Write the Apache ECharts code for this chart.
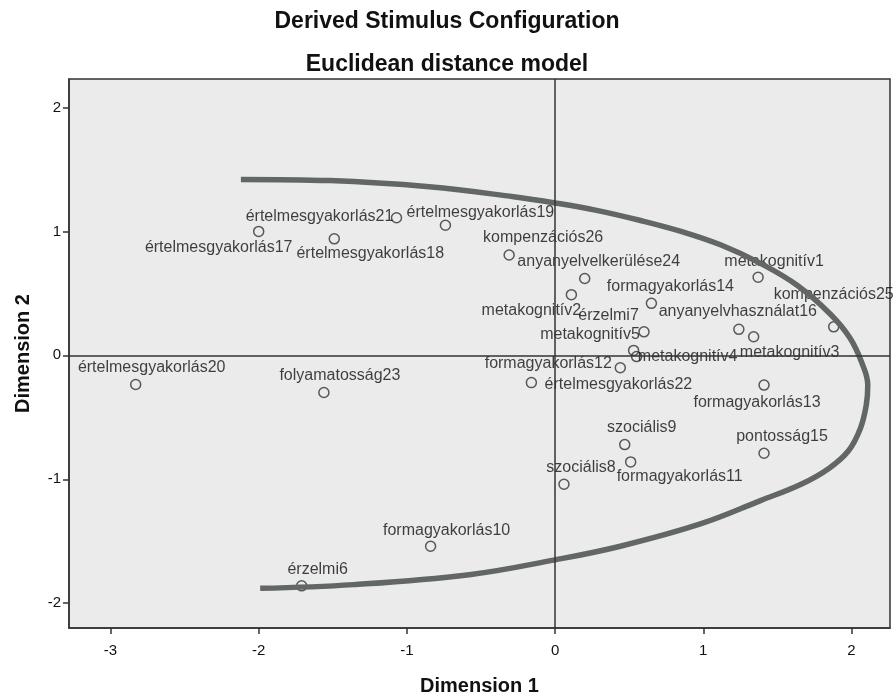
<!DOCTYPE html>
<html>
<head>
<meta charset="utf-8">
<title>Derived Stimulus Configuration</title>
<script src="https://cdn.jsdelivr.net/npm/echarts@6/dist/echarts.min.js"></script>
<style>
  html, body { margin: 0; padding: 0; background: #fff; }
  #container { width: 894px; height: 696px; }
</style>
</head>
<body>
<div id="container"></div>
<script>
"use strict";

// stimulus names and coordinates
const stimulusNames = [
  "értelmesgyakorlás17", "értelmesgyakorlás21", "értelmesgyakorlás19", "értelmesgyakorlás18",
  "kompenzációs26", "anyanyelvelkerülése24", "metakognitív2", "érzelmi7",
  "formagyakorlás14", "metakognitív1", "kompenzációs25", "anyanyelvhasználat16",
  "metakognitív3", "metakognitív5", "metakognitív4", "formagyakorlás12",
  "értelmesgyakorlás22", "formagyakorlás13", "szociális9", "pontosság15",
  "szociális8", "formagyakorlás11", "értelmesgyakorlás20", "folyamatosság23",
  "formagyakorlás10", "érzelmi6",
];
const dimension1 = [
  -2.00, -1.07, -0.74, -1.49,
  -0.31, 0.20, 0.11, 0.55,
  0.65, 1.37, 1.88, 1.24,
  1.34, 0.60, 0.53, 0.44,
  -0.16, 1.41, 0.47, 1.41,
  0.06, 0.51, -2.83, -1.56,
  -0.84, -1.71,
];
const dimension2 = [
  1.00, 1.11, 1.05, 0.94,
  0.81, 0.62, 0.49, -0.01,
  0.42, 0.63, 0.23, 0.21,
  0.15, 0.19, 0.04, -0.10,
  -0.22, -0.24, -0.72, -0.79,
  -1.04, -0.86, -0.235, -0.30,
  -1.54, -1.86,
];

// hand drawn grey curve
const curveDim1 = [
  -2.12, -1.52, -0.85, -0.28, 0.00, 0.28, 0.57, 0.85, 1.12, 1.39, 1.64, 1.86,
  1.99, 2.07, 2.11, 2.10, 2.06, 1.98, 1.85, 1.66, 1.39, 0.98, 0.44, 0.00,
  -0.58, -1.36, -1.99,
];
const curveDim2 = [
  1.42, 1.41, 1.36, 1.28, 1.23, 1.17, 1.09, 1.00, 0.89, 0.74, 0.56, 0.33,
  0.14, -0.06, -0.24, -0.40, -0.59, -0.77, -0.91, -1.04, -1.17, -1.36, -1.54, -1.65,
  -1.77, -1.85, -1.88,
];

const xTicks = [-3, -2, -1, 0, 1, 2];
const yTicks = [-2, -1, 0, 1, 2];

// label placement (pixels from the marker), same order as stimulusNames
const labelShift = [
  [-40, 16], [-77, -1], [35, -13], [36, 15],
  [34, -17], [14, -17], [-40, 16], [-28, -41],
  [19, -17], [16, -16], [0, -32], [-1, -18],
  [36, 16], [-54, 3], [54, 6], [-72, -4],
  [87, 2], [-7, 17], [17, -17], [18, -17],
  [17, -17], [49, 15], [16, -17], [16, -17],
  [16, -16], [16, -16],
];

const font = "'Liberation Sans', Arial, sans-serif";

let myChart = echarts.init(document.getElementById('container'));

let points = stimulusNames.map((name, i) => ({
  name: name,
  value: [dimension1[i], dimension2[i]],
  label: { offset: labelShift[i] },
}));

let curve = curveDim1.map((x, i) => [x, curveDim2[i]]);

let option = {
  animation: false,
  title: [
    {
      text: "Derived Stimulus Configuration",
      left: 'center',
      top: 5,
      textStyle: { fontFamily: font, fontSize: 23, fontWeight: 'bold', color: '#111' },
    },
    {
      text: "Euclidean distance model",
      left: 'center',
      top: 48,
      textStyle: { fontFamily: font, fontSize: 23, fontWeight: 'bold', color: '#111' },
    },
  ],
  grid: {
    left: 69,
    right: 4,
    top: 79,
    bottom: 68,
    outerBoundsMode: 'none',
    containLabel: false,
    show: true,
    backgroundColor: '#ebebeb',
    borderColor: '#333',
    borderWidth: 1.5,
  },
  xAxis: {
    type: 'value',
    min: -3.28,
    max: 2.26,
    name: "Dimension 1",
    nameLocation: 'middle',
    nameGap: 48,
    nameTextStyle: { fontFamily: font, fontSize: 20, fontWeight: 'bold', color: '#111' },
    axisLine: { onZero: false, lineStyle: { color: '#333', width: 1.5 } },
    axisTick: { customValues: xTicks, length: 6, lineStyle: { color: '#333', width: 1.5 } },
    axisLabel: { customValues: xTicks, margin: 15, fontFamily: font, fontSize: 15, color: '#111' },
    splitLine: { show: false },
  },
  yAxis: {
    type: 'value',
    min: -2.2,
    max: 2.23,
    name: "Dimension 2",
    nameLocation: 'middle',
    nameGap: 36,
    nameTextStyle: { fontFamily: font, fontSize: 20, fontWeight: 'bold', color: '#111' },
    axisLine: { onZero: false, lineStyle: { color: '#333', width: 1.5 } },
    axisTick: { customValues: yTicks, length: 6, lineStyle: { color: '#333', width: 1.5 } },
    axisLabel: { customValues: yTicks, margin: 8, fontFamily: font, fontSize: 15, color: '#111' },
    splitLine: { show: false },
  },
  series: [
    {
      type: 'scatter',
      z: 2,
      symbol: 'circle',
      symbolSize: 10,
      itemStyle: { color: 'rgba(0,0,0,0)', borderColor: '#333', borderWidth: 1.5 },
      label: {
        show: true,
        position: 'inside',
        formatter: '{b}',
        fontFamily: font,
        fontSize: 16,
        color: '#111',
      },
      emphasis: { disabled: true },
      data: points,
    },
    {
      type: 'line',
      z: 3,
      smooth: 0.4,
      showSymbol: false,
      silent: true,
      lineStyle: { color: '#636666', width: 5.5 },
      data: curve,
      markLine: {
        silent: true,
        symbol: 'none',
        label: { show: false },
        lineStyle: { color: '#333', width: 1.5, type: 'solid' },
        data: [{ xAxis: 0 }, { yAxis: 0 }],
      },
    },
  ],
};

myChart.setOption(option);
</script>
</body>
</html>
